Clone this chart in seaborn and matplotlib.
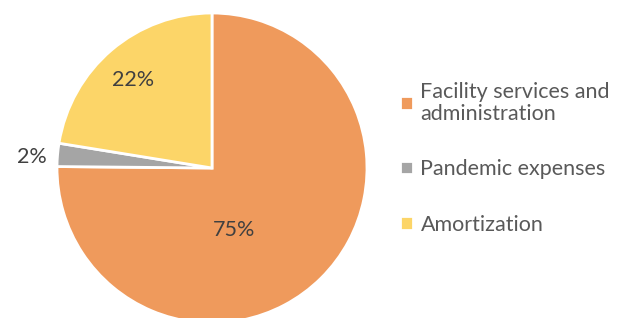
import numpy as np
import matplotlib
matplotlib.use("Agg")
import matplotlib.pyplot as plt
import seaborn as sns

# Data
categories = ["Facility services and\nadministration", "Pandemic expenses", "Amortization"]
shares = [75.0, 2.4, 22.4]
colors = ["#EF9A5C", "#A5A5A5", "#FCD568"]

sns.set_theme(style="white")
plt.rcParams["font.family"] = ["Lato", "DejaVu Sans"]

fig = plt.figure(figsize=(6.23, 3.18), dpi=100)
ax = fig.add_axes([57 / 623, (150 - 155) / 318, 310 / 623, 310 / 318])

wedges, texts, autotexts = ax.pie(
    shares, colors=colors, startangle=90, counterclock=False,
    autopct=lambda p: f"{p:.0f}%", pctdistance=0.6,
    wedgeprops=dict(edgecolor="white", linewidth=2),
    textprops=dict(color="#404040", fontsize=15.5),
)
ax.set_xlim(-1, 1)
ax.set_ylim(-1, 1)
ax.set_aspect("equal")

# label positions (radius units, like Excel's placement)
label_pos = [(0.14, -0.40), (-1.16, 0.07), (-0.51, 0.57)]
for t, pos in zip(autotexts, label_pos):
    t.set_position(pos)

leg = fig.legend(wedges, categories, loc="upper left", bbox_to_anchor=(400 / 623, 1 - 82 / 318),
                 frameon=False, fontsize=15.5, labelcolor="#595959",
                 handlelength=0.6, handleheight=0.6, handletextpad=0.35,
                 labelspacing=1.65, borderpad=0, borderaxespad=0)
for t in leg.get_texts():
    t.set_linespacing(1.1)

fig.savefig("out.png", dpi=100)
